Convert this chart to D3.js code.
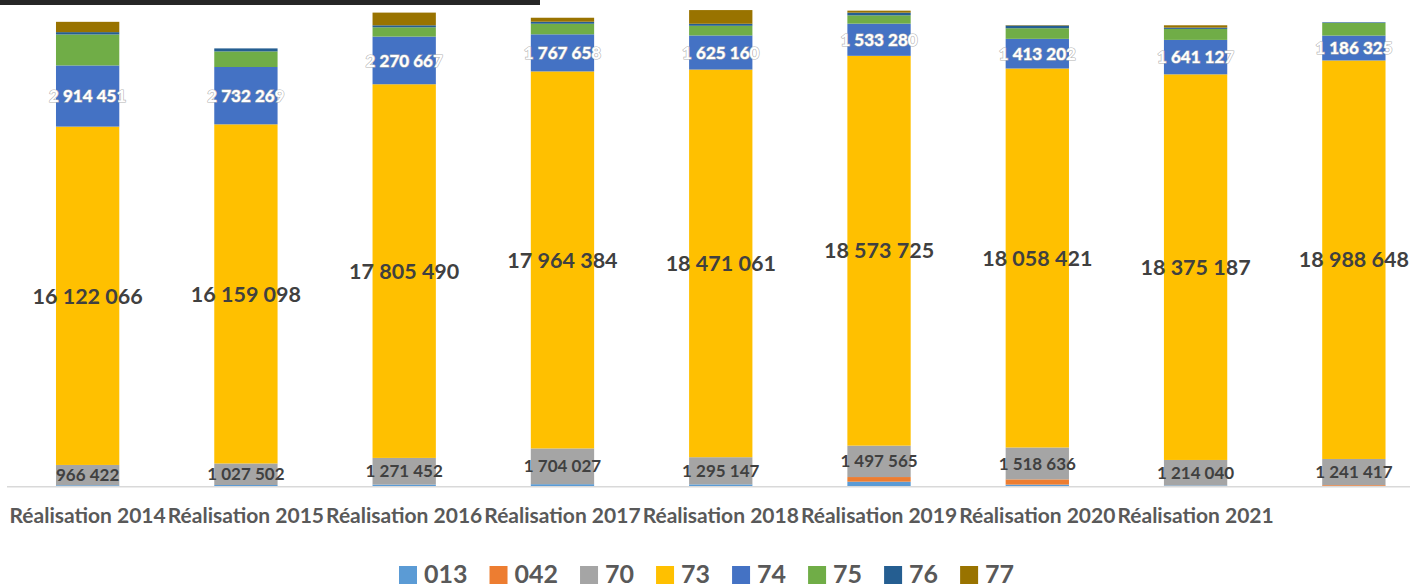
<!DOCTYPE html>
<html>
<head>
<meta charset="utf-8">
<script src="https://cdn.jsdelivr.net/npm/d3@7"></script>
<style>
	html, body { margin: 0; padding: 0; background: #ffffff; }
	svg { display: block; }
</style>
</head>
<body>
<div id="chart"></div>
<script>
'use strict';

// categories (the 9th column has no label in the source)
var categories = [
	'Réalisation 2014', 'Réalisation 2015', 'Réalisation 2016',
	'Réalisation 2017', 'Réalisation 2018', 'Réalisation 2019',
	'Réalisation 2020', 'Réalisation 2021', ''
];

var seriesNames = ['013', '042', '70', '73', '74', '75', '76', '77'];
var seriesColors = ['#5b9bd5', '#ed7d31', '#a5a5a5', '#ffc000',
										'#4472c4', '#70ad47', '#255e91', '#997300'];

// series values (70, 73, 74 read from labels, others estimated)
var s013 = [70000, 80000, 100000, 120000, 110000, 240000, 100000, 60000, 45000];
var s042 = [0, 0, 0, 0, 0, 220000, 250000, 0, 35000];
var s70  = [966422, 1027502, 1271452, 1704027, 1295147, 1497565, 1518636, 1214040, 1241417];
var s73  = [16122066, 16159098, 17805490, 17964384, 18471061, 18573725, 18058421, 18375187, 18988648];
var s74  = [2914451, 2732269, 2270667, 1767658, 1625160, 1533280, 1413202, 1641127, 1186325];
var s75  = [1477000, 743000, 443000, 505000, 462000, 395000, 505000, 524000, 600000];
var s76  = [110000, 143000, 95000, 95000, 95000, 129000, 129000, 62000, 30000];
var s77  = [491000, 0, 605000, 190000, 653000, 95000, 20000, 110000, 0];

var labelled = ['70', '73', '74'];

var W = 1410, H = 587;

function buildRows ()	{
	var cols = [s013, s042, s70, s73, s74, s75, s76, s77];
	return categories.map(function (c, i)	{
		var row = { cat: c };
		for (var j = 0; j < seriesNames.length; j++)	{
			row[seriesNames[j]] = cols[j][i];
		}
		return row;
	});
}

var fr = d3.formatLocale({
	decimal: ',', thousands: ' ', grouping: [3], currency: ['', '']
});
var fmt = fr.format(',d');

function makeSVG ()	{
	return d3.select('#chart').append('svg')
					 .attr('width', W)
					 .attr('height', H);
}

function draw ()	{
	var svg = makeSVG(),
			rows = buildRows();

	var x = d3.scaleBand()
						.domain(categories)
						.range([8.5, 1433])
						.paddingInner(0.6)
						.paddingOuter(0.3);

	var y = d3.scaleLinear()
						.domain([0, 25000000])
						.range([486.7, 486.7 - 25000000 / 47650]);

	var colour = d3.scaleOrdinal().domain(seriesNames).range(seriesColors);

	var stack = d3.stack().keys(seriesNames)(rows);

	// dark strip on top-left
	svg.append('rect')
		 .attr('x', 0)
		 .attr('y', 0)
		 .attr('width', 540)
		 .attr('height', 5)
		 .attr('fill', '#262626');

	var layers = svg.append('g').selectAll('g')
									.data(stack)
									.join('g')
									.attr('fill', function (d) { return colour(d.key); });

	layers.selectAll('rect')
				.data(function (d) { return d; })
				.join('rect')
				.attr('x', function (d) { return x(d.data.cat); })
				.attr('y', function (d) { return y(d[1]); })
				.attr('width', x.bandwidth())
				.attr('height', function (d) { return Math.max(0, y(d[0]) - y(d[1])); });

	// category axis line
	svg.append('line')
		 .attr('x1', 7)
		 .attr('x2', W)
		 .attr('y1', y(0))
		 .attr('y2', y(0))
		 .attr('stroke', '#d9d9d9')
		 .attr('stroke-width', 1.5);

	// data labels
	var lab = svg.append('g')
							 .attr('font-family', 'Lato, sans-serif')
							 .attr('font-weight', 'bold')
							 .attr('text-anchor', 'middle');

	stack.forEach(function (layer)	{
		if (labelled.indexOf(layer.key) < 0) { return; }
		var big = layer.key === '73',
				white = layer.key === '74';

		lab.append('g').selectAll('text')
			 .data(layer)
			 .join('text')
			 .attr('x', function (d) { return x(d.data.cat) + x.bandwidth() / 2; })
			 .attr('y', function (d) { return (y(d[0]) + y(d[1])) / 2; })
			 .attr('dy', '0.36em')
			 .attr('font-size', big ? 21.5 : 17)
			 .attr('fill', white ? '#ffffff' : '#404040')
			 .attr('stroke', white ? '#b4b4b4' : null)
			 .attr('stroke-width', white ? 1.2 : null)
			 .attr('paint-order', 'stroke')
			 .text(function (d) { return fmt(d.data[layer.key]); });
	});

	// category labels
	svg.append('g').selectAll('text')
		 .data(categories)
		 .join('text')
		 .attr('x', function (d) { return x(d) + x.bandwidth() / 2; })
		 .attr('y', 523)
		 .attr('text-anchor', 'middle')
		 .attr('font-family', 'Lato, sans-serif')
		 .attr('font-weight', 'bold')
		 .attr('font-size', 21)
		 .attr('fill', '#595959')
		 .text(function (d) { return d; });

	// legend
	var leg = svg.append('g'),
			lx = 399;

	seriesNames.forEach(function (name, i)	{
		leg.append('rect')
			 .attr('x', lx)
			 .attr('y', 566)
			 .attr('width', 18)
			 .attr('height', 18)
			 .attr('fill', seriesColors[i]);

		var t = leg.append('text')
							 .attr('x', lx + 25)
							 .attr('y', 583)
							 .attr('font-family', 'Lato, sans-serif')
							 .attr('font-weight', 'bold')
							 .attr('font-size', 25)
							 .attr('fill', '#595959')
							 .text(name);

		lx += 25 + t.node().getComputedTextLength() + 22;
	});
}

draw();
</script>
</body>
</html>
